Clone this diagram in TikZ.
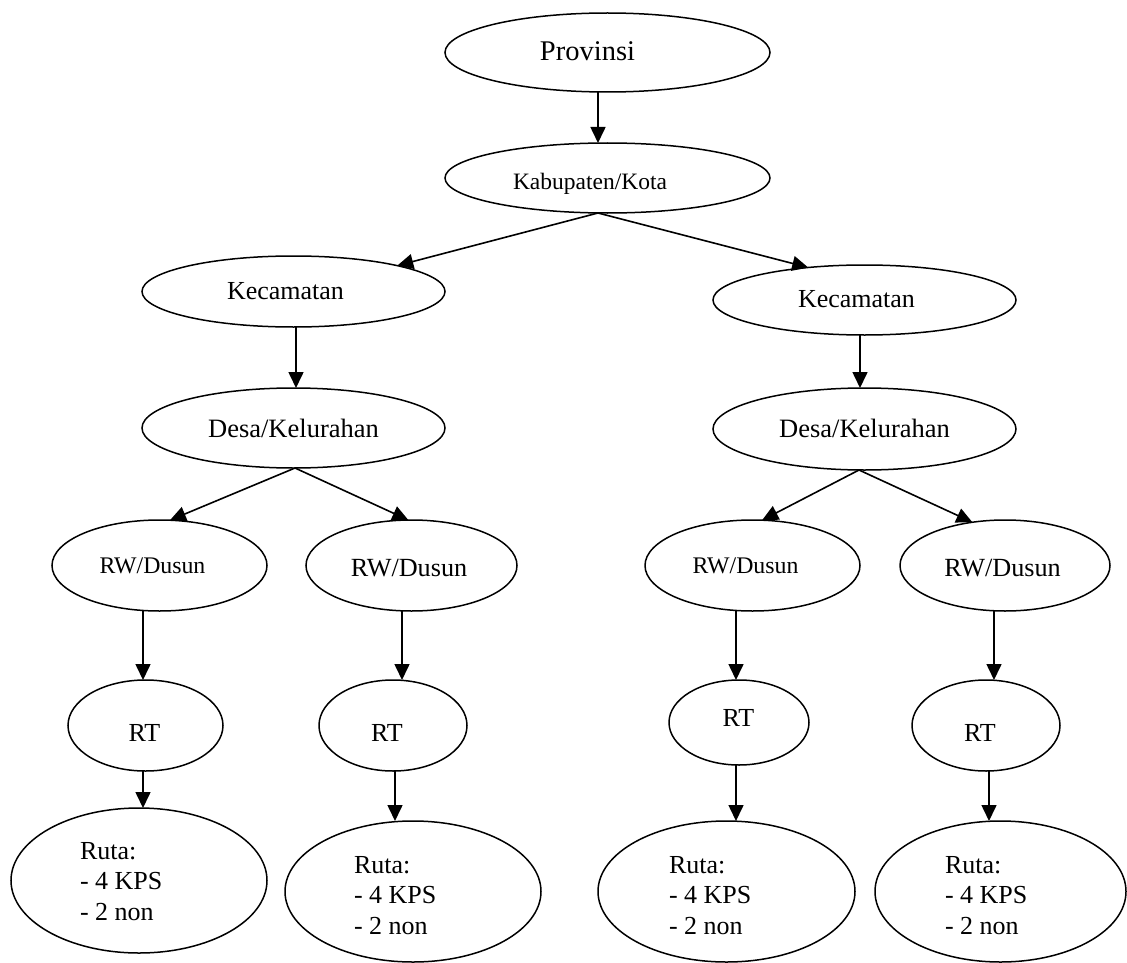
\documentclass[tikz,border=0pt]{standalone}
\usepackage{fontspec}
\setmainfont{Liberation Serif}
\usetikzlibrary{shapes.geometric,arrows.meta}
\tikzset{
  ell/.style={draw, ellipse, inner sep=0pt, outer sep=0pt, line width=1.5pt},
  arr/.style={-{Triangle[length=16pt,width=15pt]}, line width=1.6pt},
  txt/.style={inner sep=0pt, outer sep=0pt},
}
\newcommand{\fs}[1]{\fontsize{#1}{30.5}\selectfont}
\newcommand{\rutatext}{\begin{tabular}[t]{@{}l@{}}Ruta:\\- 4 KPS\\- 2 non\end{tabular}}
\begin{document}
\begin{tikzpicture}[x=1pt,y=-1pt]
\useasboundingbox (0,0) rectangle (1127,963);
% ellipses
\node[ell, minimum width=325pt, minimum height=79pt] (prov) at (607.5,52.5) {};
\node[ell, minimum width=325pt, minimum height=70pt] (kab) at (607.5,178) {};
\node[ell, minimum width=303pt, minimum height=71pt] (kecL) at (293.5,291.5) {};
\node[ell, minimum width=303pt, minimum height=70pt] (kecR) at (864.5,300) {};
\node[ell, minimum width=303pt, minimum height=80pt] (desaL) at (293.5,428) {};
\node[ell, minimum width=303pt, minimum height=82pt] (desaR) at (864.5,429) {};
\node[ell, minimum width=215pt, minimum height=91pt] (rwL1) at (159.5,565.5) {};
\node[ell, minimum width=211pt, minimum height=91pt] (rwL2) at (411.5,565.5) {};
\node[ell, minimum width=215pt, minimum height=91pt] (rwR1) at (752.5,565.5) {};
\node[ell, minimum width=210pt, minimum height=91pt] (rwR2) at (1005,565.5) {};
\node[ell, minimum width=155pt, minimum height=91pt] (rtL1) at (145.5,725.5) {};
\node[ell, minimum width=148pt, minimum height=91pt] (rtL2) at (393,725.5) {};
\node[ell, minimum width=140pt, minimum height=85pt] (rtR1) at (739,722.5) {};
\node[ell, minimum width=148pt, minimum height=91pt] (rtR2) at (986,725.5) {};
\node[ell, minimum width=256pt, minimum height=145pt] (rutaL1) at (139,880.5) {};
\node[ell, minimum width=256pt, minimum height=141pt] (rutaL2) at (413,891.5) {};
\node[ell, minimum width=257pt, minimum height=141pt] (rutaR1) at (726.5,891.5) {};
\node[ell, minimum width=251pt, minimum height=141pt] (rutaR2) at (1000.5,891.5) {};
% texts
\node[txt, anchor=base] (tprov) at (587.5,61) {\fs{28.5}Provinsi};
\node[txt, anchor=base] (tkab) at (590,189) {\fs{23.5}Kabupaten/Kota};
\node[txt, anchor=base] (tkecL) at (285.5,299) {\fs{26}Kecamatan};
\node[txt, anchor=base] (tkecR) at (856.5,307) {\fs{26}Kecamatan};
\node[txt, anchor=base] (tdesaL) at (293.5,437) {\fs{26.5}Desa/Kelurahan};
\node[txt, anchor=base] (tdesaR) at (864.5,437) {\fs{26.5}Desa/Kelurahan};
\node[txt, anchor=base] (trwL1) at (152.5,573) {\fs{23.8}RW/Dusun};
\node[txt, anchor=base] (trwL2) at (409,576) {\fs{26.2}RW/Dusun};
\node[txt, anchor=base] (trwR1) at (745.5,573) {\fs{23.8}RW/Dusun};
\node[txt, anchor=base] (trwR2) at (1002.5,576) {\fs{26.2}RW/Dusun};
\node[txt, anchor=base] (trtL1) at (144.5,741) {\fs{26}RT};
\node[txt, anchor=base] (trtL2) at (387,741) {\fs{26}RT};
\node[txt, anchor=base] (trtR1) at (738.5,726) {\fs{26}RT};
\node[txt, anchor=base] (trtR2) at (980,741) {\fs{26}RT};
\node[txt, anchor=base west] (trutaL1) at (80,859) {\fs{26}\rutatext};
\node[txt, anchor=base west] (trutaL2) at (354,873) {\fs{26}\rutatext};
\node[txt, anchor=base west] (trutaR1) at (669,873) {\fs{26}\rutatext};
\node[txt, anchor=base west] (trutaR2) at (945,873) {\fs{26}\rutatext};
% connectors
\draw[arr] ([xshift=-9.5pt]prov.south) -- ([xshift=-9.5pt]kab.north);
\draw[arr] ([xshift=-9.5pt]kab.south) -- (kecL.14);
\draw[arr] ([xshift=-9.5pt]kab.south) -- (kecR.150);
\draw[arr] ([xshift=2.5pt]kecL.south) -- ([xshift=2.5pt]desaL.north);
\draw[arr] ([xshift=-4.5pt]kecR.south) -- ([xshift=-4.5pt]desaR.north);
\draw[arr] ([xshift=1.5pt]desaL.south) -- (rwL1.77);
\draw[arr] ([xshift=1.5pt]desaL.south) -- (rwL2.94);
\draw[arr] ([xshift=-5.5pt]desaR.south) -- (rwR1.78);
\draw[arr] ([xshift=-5.5pt]desaR.south) -- (rwR2.127);
\draw[arr] ([xshift=-16.5pt]rwL1.south) -- ([xshift=-2.5pt]rtL1.north);
\draw[arr] ([xshift=-2.5pt]rtL1.south) -- ([xshift=4pt]rutaL1.north);
\draw[arr] ([xshift=-9.5pt]rwL2.south) -- ([xshift=9pt]rtL2.north);
\draw[arr] ([xshift=2pt]rtL2.south) -- ([xshift=-18pt]rutaL2.north);
\draw[arr] ([xshift=-16.5pt]rwR1.south) -- ([xshift=-3pt]rtR1.north);
\draw[arr] ([xshift=-3pt]rtR1.south) -- ([xshift=9.5pt]rutaR1.north);
\draw[arr] ([xshift=-11pt]rwR2.south) -- ([xshift=8pt]rtR2.north);
\draw[arr] ([xshift=3pt]rtR2.south) -- ([xshift=-11.5pt]rutaR2.north);
\end{tikzpicture}
\end{document}
